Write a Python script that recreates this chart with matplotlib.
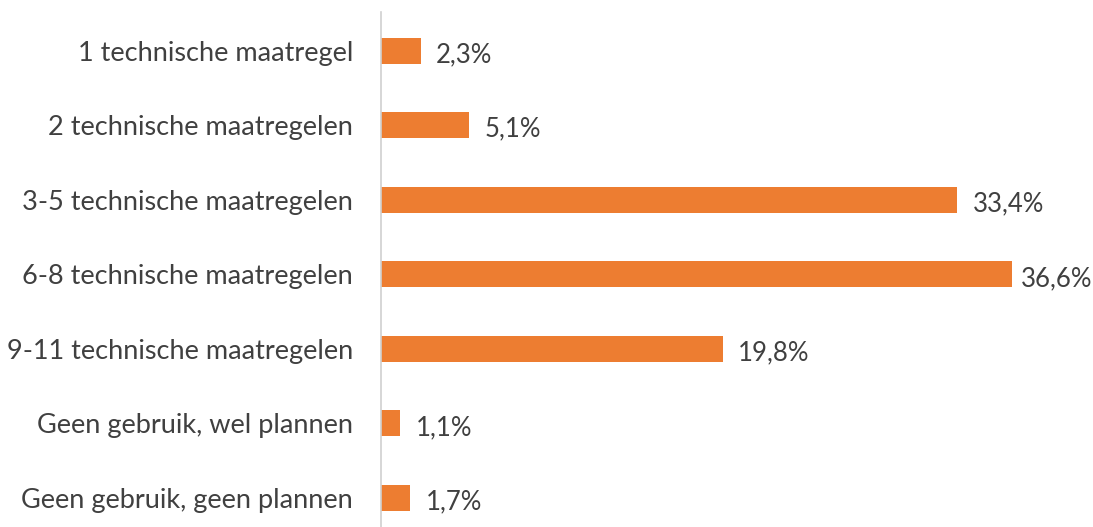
import numpy as np
import matplotlib.pyplot as plt

categories = ['1 technische maatregel', '2 technische maatregelen', '3-5 technische maatregelen',
              '6-8 technische maatregelen', '9-11 technische maatregelen',
              'Geen gebruik, wel plannen', 'Geen gebruik, geen plannen']
values = [2.3, 5.1, 33.4, 36.6, 19.8, 1.1, 1.7]
value_labels = ['2,3%', '5,1%', '33,4%', '36,6%', '19,8%', '1,1%', '1,7%']

plt.rcParams['font.family'] = ['Lato', 'DejaVu Sans']
txt = '#404040'

fig = plt.figure(figsize=(10.93, 5.27), dpi=100)
ax = fig.add_axes([381 / 1093, 0, 1 - 381 / 1093, 515 / 527])

xmax = 712 / 17.25
y = np.arange(len(categories))
ax.barh(y, values, height=0.35, color='#ED7D31')
for yi, v, lab in zip(y, values, value_labels):
    # keep the label inside the figure like Excel does
    x = min(v + 0.9, xmax - 4.2)
    ax.text(x, yi + 0.02, lab, va='center_baseline', ha='left', fontsize=18.5, color=txt)

ax.set_ylim(6.39, -0.52)
ax.set_xlim(0, xmax)
ax.set_yticks(y)
ax.set_yticklabels(categories, fontsize=19.5, color=txt, va='center_baseline')
ax.tick_params(axis='y', length=0, pad=20)
ax.set_xticks([])
for s in ['top', 'right', 'bottom']:
    ax.spines[s].set_visible(False)
ax.spines['left'].set_color('#d0d0d0')
ax.spines['left'].set_linewidth(1.2)

fig.savefig('out.png', dpi=100)
